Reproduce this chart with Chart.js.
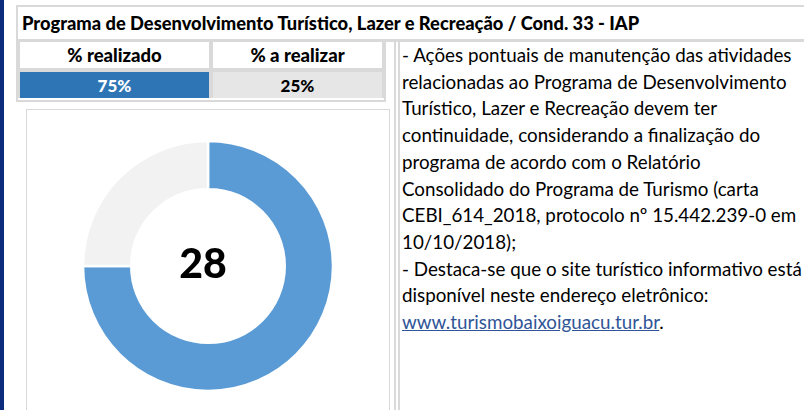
<!DOCTYPE html>
<html lang="pt-BR">
<head>
<meta charset="utf-8">
<title>Programa de Desenvolvimento Turístico, Lazer e Recreação</title>
<script src="https://cdn.jsdelivr.net/npm/chart.js@4.4.1/dist/chart.umd.min.js"></script>
<style>
  html, body {
    margin: 0;
    padding: 0;
    width: 804px;
    height: 410px;
    overflow: hidden;
    background: #ffffff;
    font-family: Lato, "Open Sans", sans-serif;
    color: #000;
  }
  .abs { position: absolute; }
  .strip { left: 0; top: 0; width: 4px; height: 410px; background: #0b2b7c; }
  .line-h { background: #d9d9d9; height: 2px; }
  .line-v { background: #d9d9d9; width: 2px; }
  .title {
    left: 22px; top: 7px; height: 32px; line-height: 32px;
    font-weight: 900; font-size: 18.3px; white-space: nowrap;
  }
  .frame { left: 16px; top: 40px; width: 370px; height: 62px; background: #d9d9d9; }
  .cell {
    font-weight: 900; text-align: center; white-space: nowrap;
  }
  .chart-box {
    left: 26px; top: 109px; width: 362px; height: 320px;
    border: 1px solid #d9d9d9; background: #fff;
  }
  .center-value {
    left: 143px; width: 120px; top: 238px; height: 50px; line-height: 50px;
    text-align: center; font-weight: 900; font-size: 41px;
  }
  .notes {
    left: 402px; top: 42px; font-size: 18.8px; line-height: 26.7px; white-space: nowrap;
  }
  .notes a { color: #2f5597; text-decoration: underline; }
</style>
</head>
<body>
  <div class="abs strip"></div>

  <!-- title row -->
  <div class="abs line-h" style="left:16px; top:5px; width:788px;"></div>
  <div class="abs line-v" style="left:16px; top:5px; height:36px;"></div>
  <div class="abs title" id="title"></div>
  <div class="abs line-h" style="left:16px; top:39px; width:788px; height:3px;"></div>

  <!-- percentage table -->
  <div class="abs frame"></div>
  <div class="abs" style="left:18px; top:98px; width:366px; height:2px; background:#fff;"></div>
  <div id="cells"></div>

  <!-- divider between chart and notes -->
  <div class="abs line-v" style="left:394px; top:40px; height:370px; width:1.5px;"></div>
  <div class="abs line-v" style="left:398px; top:40px; height:370px; width:1.5px;"></div>

  <!-- doughnut -->
  <div class="abs chart-box">
    <canvas id="donut" width="362" height="312"></canvas>
  </div>
  <div class="abs center-value" id="centerValue"></div>

  <!-- notes -->
  <div class="abs notes" id="notes"></div>

<script>
  // chart data
  const titleText = 'Programa de Desenvolvimento Turístico, Lazer e Recreação / Cond. 33 - IAP';
  const categories = ['% realizado', '% a realizar'];
  const percentages = [75, 25];
  const sliceColors = ['#5b9bd5', '#f2f2f2'];
  const cellColors = ['#2e75b6', '#e7e6e6'];
  const cellTextColors = ['#ffffff', '#000000'];
  const centerValue = '28';

  const noteLines = [
    '- Ações pontuais de manutenção das atividades',
    'relacionadas ao Programa de Desenvolvimento',
    'Turístico, Lazer e Recreação devem ter',
    'continuidade, considerando a finalização do',
    'programa de acordo com o Relatório',
    'Consolidado do Programa de Turismo (carta',
    'CEBI_614_2018, protocolo nº 15.442.239-0 em',
    '10/10/2018);',
    '- Destaca-se que o site turístico informativo está',
    'disponível neste endereço eletrônico:'
  ];
  const siteUrl = 'www.turismobaixoiguacu.tur.br';

  document.addEventListener('DOMContentLoaded', function() {
    buildHeader();
    buildNotes();
    initDonut();
  });

  function buildHeader() {
    document.getElementById('title').textContent = titleText;

    // column boxes: [left, width]
    const cols = [[20, 189], [213, 169]];
    const cells = document.getElementById('cells');
    categories.forEach((cat, i) => {
      const head = document.createElement('div');
      head.className = 'abs cell';
      head.style.cssText = `left:${cols[i][0]}px; width:${cols[i][1]}px; top:42px; height:26px; line-height:27px; font-size:18.5px; background:#fff;`;
      head.textContent = cat;
      cells.appendChild(head);

      const val = document.createElement('div');
      val.className = 'abs cell';
      val.style.cssText = `left:${cols[i][0]}px; width:${cols[i][1]}px; top:72px; height:26px; line-height:28px; font-size:17px; background:${cellColors[i]}; color:${cellTextColors[i]};`;
      val.textContent = percentages[i] + '%';
      cells.appendChild(val);
    });

    document.getElementById('centerValue').textContent = centerValue;
  }

  function buildNotes() {
    const notes = document.getElementById('notes');
    noteLines.forEach(line => {
      const div = document.createElement('div');
      div.textContent = line;
      notes.appendChild(div);
    });
    const last = document.createElement('div');
    last.innerHTML = `<a href="#">${siteUrl}</a>.`;
    notes.appendChild(last);
  }

  function initDonut() {
    const ctx = document.getElementById('donut').getContext('2d');
    new Chart(ctx, {
      type: 'doughnut',
      data: {
        labels: categories,
        datasets: [{
          data: percentages,
          backgroundColor: sliceColors,
          borderColor: '#ffffff',
          borderWidth: 2.5
        }]
      },
      options: {
        responsive: false,
        animation: false,
        events: [],
        radius: 125,
        cutout: 95,
        layout: { padding: 0 },
        plugins: {
          legend: { display: false },
          tooltip: { enabled: false }
        }
      }
    });
  }
</script>
</body>
</html>
